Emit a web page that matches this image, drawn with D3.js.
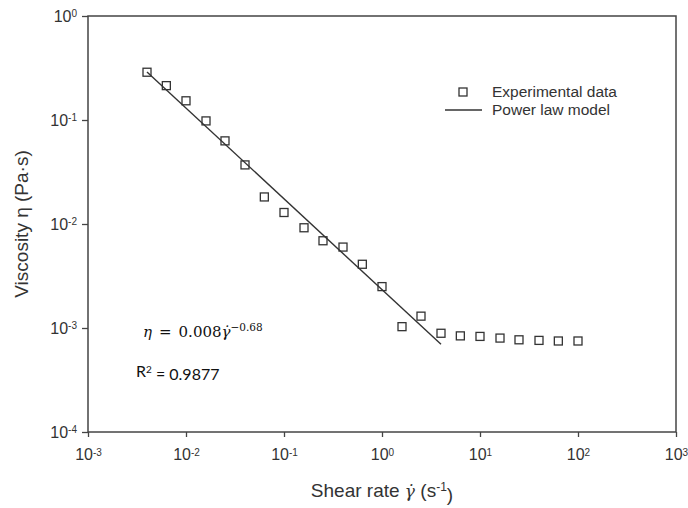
<!DOCTYPE html>
<html>
<head>
<meta charset="utf-8">
<script src="https://cdn.jsdelivr.net/npm/d3@7"></script>
<style>
    body { margin: 0; background: #fff; }
    svg { font-family: "Liberation Sans", Arial, sans-serif; }
</style>
</head>
<body>
<div id="chart"></div>
<script>

// shear rate (1/s) and measured viscosity (Pa.s)
var shearRate = [0.004, 0.0063, 0.01, 0.016, 0.025, 0.04, 0.063, 0.1, 0.16, 0.25, 0.4, 0.63,
    1, 1.6, 2.5, 4, 6.3, 10, 16, 25, 40, 63, 100];
var viscosity = [0.288, 0.214, 0.153, 0.098, 0.063, 0.037, 0.0182, 0.0129, 0.0092, 0.0069, 0.0060, 0.0041,
    0.0025, 0.00103, 0.0013, 0.00089, 0.00084, 0.00083, 0.00080, 0.00077, 0.00076, 0.00075, 0.00075];

// power law fit line, drawn between its two end points
var modelX = [0.004, 4];
var modelY = [0.29, 0.000697];

var xTicks = [1e-3, 1e-2, 1e-1, 1e0, 1e1, 1e2, 1e3];
var yTicks = [1e-4, 1e-3, 1e-2, 1e-1, 1e0];

var legendItems = ["Experimental data", "Power law model"];

var width = 688;
var height = 508;
const margins = {top: 16, bottom: 76, left: 88, right: 12}

var svg = d3.select('#chart')
    .append('svg')
    .attr('width', width)
    .attr('height', height);

var x_scale = d3.scaleLog()
    .domain([1e-3, 1e3])
    .range([margins.left, width - margins.right]);

var y_scale = d3.scaleLog()
    .domain([1e-4, 1])
    .range([height - margins.bottom, margins.top]);

function powerLabel(d) {
    var t = d3.select(this);
    var e = Math.round(Math.log10(d));
    t.text("10");
    t.append("tspan")
        .attr("dy", "-0.45em")
        .attr("font-size", "10px")
        .text(e);
}

var x_axis = d3.axisBottom(x_scale).tickValues(xTicks).tickSize(5).tickPadding(12);
var y_axis = d3.axisLeft(y_scale).tickValues(yTicks).tickSize(6).tickPadding(5);

var gx = svg.append('g')
    .attr('transform', 'translate(0,' + (height - margins.bottom) + ')')
    .call(x_axis)
    .attr("font-family", null);
gx.selectAll("text")
    .attr("font-size", "16px")
    .attr("fill", "#333")
    .each(powerLabel);

var gy = svg.append('g')
    .attr('transform', 'translate(' + margins.left + ',0)')
    .call(y_axis)
    .attr("font-family", null);
gy.selectAll("text")
    .attr("font-size", "16px")
    .attr("fill", "#333")
    .each(powerLabel);

svg.selectAll(".domain").remove();
svg.selectAll(".tick line").attr("stroke", "#444").attr("stroke-width", 1.3);

// frame
svg.append("rect")
    .attr("x", margins.left)
    .attr("y", margins.top)
    .attr("width", width - margins.left - margins.right)
    .attr("height", height - margins.top - margins.bottom)
    .attr("fill", "none")
    .attr("stroke", "#444")
    .attr("stroke-width", 1.5);

// model line
var line = d3.line()
    .x(function (d) { return x_scale(d[0]); })
    .y(function (d) { return y_scale(d[1]); });

svg.append("path")
    .datum(d3.zip(modelX, modelY))
    .attr("d", line)
    .attr("fill", "none")
    .attr("stroke", "#333")
    .attr("stroke-width", 1.4);

// data squares
var sq = 8;
svg.selectAll('.pt')
    .data(d3.zip(shearRate, viscosity))
    .enter()
    .append('rect')
    .attr('class', 'pt')
    .attr('x', function (d) { return x_scale(d[0]) - sq / 2; })
    .attr('y', function (d) { return y_scale(d[1]) - sq / 2; })
    .attr('width', sq)
    .attr('height', sq)
    .attr('fill', 'none')
    .attr('stroke', '#333')
    .attr('stroke-width', 1.3);

// axis titles
var xt = svg.append("text")
    .attr("x", (margins.left + width - margins.right) / 2)
    .attr("y", 497)
    .attr("text-anchor", "middle")
    .attr("font-size", "19px")
    .attr("fill", "#333");
xt.append("tspan").text("Shear rate ");
xt.append("tspan").attr("font-family", "DejaVu Serif, serif").attr("font-style", "italic").attr("font-size", "17px").text("\u03b3\u0307");
xt.append("tspan").text(" (s");
xt.append("tspan").attr("dy", "-0.5em").attr("font-size", "12px").text("-1");
xt.append("tspan").attr("dy", "0.5em").text(")");

svg.append("text")
    .attr("transform", "rotate(-90)")
    .attr("x", -(margins.top + height - margins.bottom) / 2)
    .attr("y", 28)
    .attr("text-anchor", "middle")
    .attr("font-size", "19px")
    .attr("fill", "#333")
    .text("Viscosity \u03b7 (Pa\u00b7s)");

// legend
var legend = svg.selectAll(".legend")
    .data(legendItems)
    .enter().append("g")
    .attr("class", "legend")
    .attr("transform", function (d, i) { return "translate(0," + (92 + i * 18) + ")"; });

legend.filter(function (d, i) { return i === 0; })
    .append("rect")
    .attr("x", 459).attr("y", -4)
    .attr("width", sq).attr("height", sq)
    .attr("fill", "none").attr("stroke", "#333").attr("stroke-width", 1.3);

legend.filter(function (d, i) { return i === 1; })
    .append("line")
    .attr("x1", 445).attr("x2", 482)
    .attr("stroke", "#333").attr("stroke-width", 1.4);

legend.append("text")
    .attr("x", 492)
    .attr("dy", "0.35em")
    .attr("font-size", "15.5px")
    .attr("fill", "#333")
    .text(function (d) { return d; });

// fit equation
var eq = svg.append("text")
    .attr("x", 143)
    .attr("y", 337)
    .attr("font-family", "DejaVu Serif, serif")
    .attr("font-size", "15px")
    .attr("fill", "#111");
eq.append("tspan").attr("font-style", "italic").text("\u03b7");
eq.append("tspan").attr("dx", 7).text("=");
eq.append("tspan").attr("dx", 7).text("0.008");
eq.append("tspan").attr("font-style", "italic").text("\u03b3\u0307");
eq.append("tspan").attr("dy", "-0.55em").attr("font-size", "10.5px").text("\u22120.68");

var r2 = svg.append("text")
    .attr("x", 136)
    .attr("y", 377)
    .attr("font-family", "Lato, sans-serif")
    .attr("font-size", "16px")
    .attr("fill", "#111");
r2.append("tspan").text("R");
r2.append("tspan").attr("dy", "-0.45em").attr("font-size", "10px").text("2");
r2.append("tspan").attr("dy", "0.45em").text(" = 0.9877");

</script>
</body>
</html>
